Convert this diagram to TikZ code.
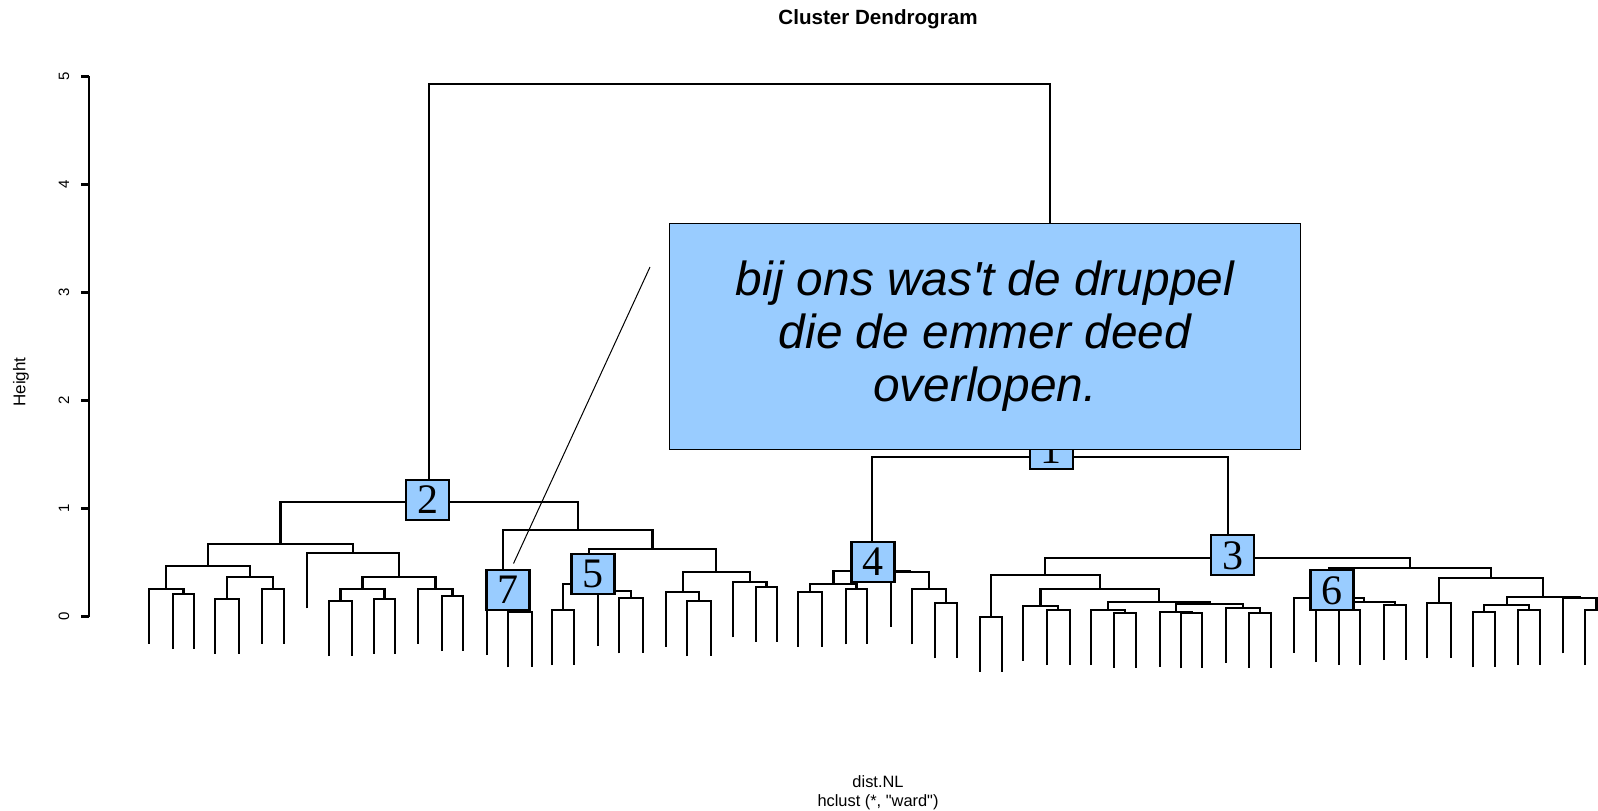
\documentclass[tikz,border=0pt]{standalone}
\usepackage{fontspec}
\setmainfont{Liberation Sans}[Ligatures=TeXOff]
\newfontfamily\numfont{Liberation Serif}
\definecolor{boxblue}{HTML}{99CCFF}
\newcommand\mrg[5]{\draw[dline] (#1,#2) -- (#1,#5) -- (#3,#5) -- (#3,#4);}
\tikzset{
 dline/.style={line width=1.1pt, black},
 clbox/.style={draw=black, line width=1.1pt, fill=boxblue, minimum width=21.5pt, minimum height=20pt, inner sep=0pt, font=\numfont\fontsize{21}{21}\selectfont},
 callout/.style={draw=black, line width=0.5pt, fill=boxblue, minimum width=315.4pt, minimum height=113.1pt, inner sep=0pt, align=center, font=\itshape\fontsize{23.9}{26.5}\selectfont},
 ticklab/.style={rotate=90, font=\fontsize{7.5}{8}\selectfont},
 pointer/.style={line width=0.5pt, black},
}
\begin{document}
\begin{tikzpicture}[x=0.5pt, y=-0.5pt]
\clip (0,0) rectangle (1598,810);
\fill[white] (0,0) rectangle (1598,810);
% title and axis labels
\node[font=\bfseries\fontsize{10.3}{12}\selectfont] (title) at (878,19) {Cluster Dendrogram};
\node[font=\fontsize{8.2}{10}\selectfont] (xlab) at (878,782) {dist.NL};
\node[font=\fontsize{8.2}{10}\selectfont] (sub) at (878,802) {hclust (*, "ward")};
\node[rotate=90, font=\fontsize{8.5}{10}\selectfont] (ylab) at (21,382) {Height};
% axis
\draw[dline] (89,616.5) -- (89,76.4);
\foreach \v/\yy in {0/616.5,1/508.5,2/400.5,3/292.4,4/184.4,5/76.4}{
  \draw[dline] (89,\yy) -- (81,\yy);
  \node[ticklab] (t\v) at (64,\yy) {\v};
}
% ---- cluster 2 ----
\mrg{149}{643.7}{183.5}{594}{588.7}
\mrg{172.7}{649}{194.3}{649}{594}
\mrg{215}{653.7}{238.7}{653.7}{598.7}
\mrg{262.3}{643.7}{284}{643.7}{588.7}
\mrg{226.9}{598.7}{273.2}{588.7}{577.3}
\mrg{166.1}{588.7}{250}{577.3}{565.7}
\mrg{328.7}{656}{352}{656}{601}
\mrg{373.7}{653.7}{395}{653.7}{598.7}
\mrg{340.4}{601}{384.4}{598.7}{588.7}
\mrg{442}{651}{463}{651}{596}
\mrg{418.3}{643.7}{452.5}{596}{588.7}
\mrg{362.4}{588.7}{435.4}{588.7}{577.3}
\mrg{307.3}{608.3}{398.9}{577.3}{553.3}
\mrg{208}{565.7}{353.1}{553.3}{544}
\mrg{507.7}{667.3}{531.7}{667.3}{612.3}
\mrg{486.7}{655}{519.7}{612.3}{600}
\mrg{552.3}{665}{574.3}{665}{610}
\mrg{619}{653.3}{642.7}{653.3}{598.3}
\mrg{597.7}{646}{630.85}{598.3}{591}
\mrg{563.3}{610}{614.3}{591}{584.3}
\mrg{687.3}{656}{710.7}{656}{601}
\mrg{666.3}{646.7}{699}{601}{591.7}
\mrg{756}{641.7}{777}{641.7}{586.7}
\mrg{732.7}{637.3}{766.5}{586.7}{582.3}
\mrg{682.65}{591.7}{749.6}{582.3}{572.3}
\mrg{588.8}{584.3}{716.1}{572.3}{549}
\mrg{503.2}{600}{652.45}{549}{530}
\mrg{280.5}{544}{577.8}{530}{502}
% ---- cluster 4 ----
\mrg{798.3}{646.7}{822.3}{646.7}{591.7}
\mrg{845.7}{644.3}{867.3}{644.3}{589.3}
\mrg{810.3}{591.7}{856.5}{589.3}{584}
\mrg{935.3}{658.3}{956.7}{658.3}{603.3}
\mrg{911.7}{644.3}{946}{603.3}{589.3}
\mrg{890.7}{626.7}{928.85}{589.3}{571.7}
\mrg{833.4}{584}{909.8}{571.7}{570.7}
% ---- cluster 3 ----
\mrg{980}{671.7}{1001.7}{671.7}{616.7}
\mrg{1046.7}{665}{1070}{665}{610}
\mrg{1022.7}{660.7}{1058.35}{610}{605.7}
\mrg{1114.3}{667.7}{1136}{667.7}{612.7}
\mrg{1091}{665}{1125.15}{612.7}{610}
\mrg{1181}{668.3}{1202.3}{668.3}{613.3}
\mrg{1160}{666.7}{1191.65}{613.3}{611.7}
\mrg{1249.3}{667.7}{1271}{667.7}{612.7}
\mrg{1226}{662.7}{1260.15}{612.7}{607.7}
\mrg{1175.8}{611.7}{1243.1}{607.7}{604.3}
\mrg{1108.1}{610}{1209.45}{604.3}{602.3}
\mrg{1040.5}{605.7}{1158.8}{602.3}{588.7}
\mrg{990.85}{616.7}{1099.65}{588.7}{575}
\mrg{1339.3}{665}{1360}{665}{610}
\mrg{1315.7}{662}{1349.65}{610}{607}
\mrg{1384.3}{660}{1405.7}{660}{605}
\mrg{1332.7}{607}{1395}{605}{602.3}
\mrg{1294}{652.7}{1363.85}{602.3}{597.7}
\mrg{1426.7}{658.3}{1450.7}{658.3}{603.3}
\mrg{1473.3}{667.3}{1495}{667.3}{612.3}
\mrg{1518.3}{665}{1540}{665}{610}
\mrg{1484.15}{612.3}{1529.15}{610}{605}
\mrg{1585}{665}{1608}{665}{610}
\mrg{1563.3}{653.3}{1596.5}{610}{598.3}
\mrg{1506.65}{605}{1579.9}{598.3}{596.7}
\mrg{1438.7}{603.3}{1543.3}{596.7}{578.3}
\mrg{1328.9}{597.7}{1491}{578.3}{568.3}
\mrg{1045.25}{575}{1409.95}{568.3}{558.3}
% ---- cluster 1 and root ----
\mrg{871.6}{570.7}{1227.6}{558.3}{457.3}
\mrg{429.2}{502}{1049.6}{457.3}{83.6}
% numbered boxes
\node[clbox] (c2) at (427.5,500) {2};
\node[clbox] (c7) at (508,590) {7};
\node[clbox] (c5) at (593,574) {5};
\node[clbox] (c4) at (873,562) {4};
\node[clbox] (c1) at (1051.3,449.3) {1};
\node[clbox] (c3) at (1232.7,555.3) {3};
\node[clbox] (c6) at (1332,590.3) {6};
% callout
\node[callout] (note) at (984.9,336.3) {bij ons was't de druppel\\die de emmer deed\\overlopen.};
\coordinate (pstart) at (650,267);
\coordinate (pend) at (513.5,563.5);
\draw[pointer] (pstart) -- (pend);
\end{tikzpicture}
\end{document}
